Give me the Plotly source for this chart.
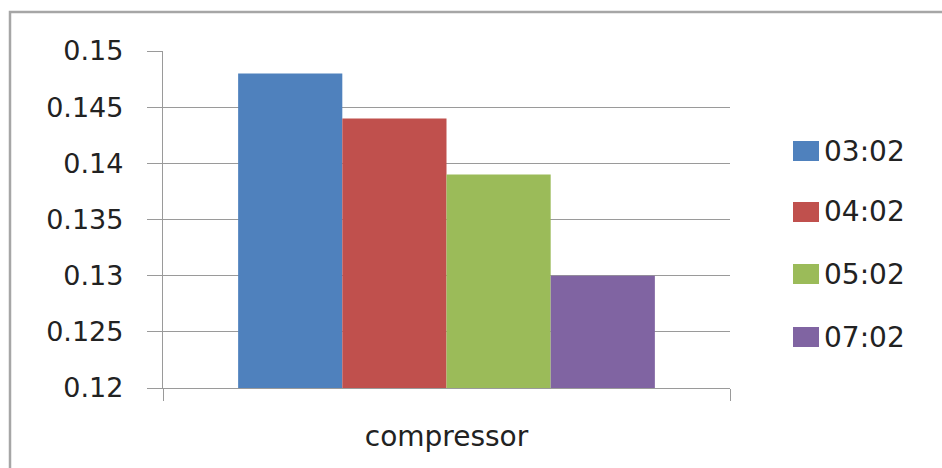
import plotly.graph_objects as go

# Data
categories = ["compressor"]
series_names = ["03:02", "04:02", "05:02", "07:02"]
series_values = [[0.148], [0.144], [0.139], [0.130]]
series_colors = ["#4F81BD", "#C0504D", "#9BBB59", "#8064A2"]
y_ticks = [0.12, 0.125, 0.13, 0.135, 0.14, 0.145, 0.15]
y_tick_labels = ["0.12", "0.125", "0.13", "0.135", "0.14", "0.145", "0.15"]

FONT = "DejaVu Sans"
TEXT = "#222222"
GRID = "#9a9a9a"

W, H = 942, 468
L, R, T, B = 163, 212, 51, 80
plot_w, plot_h = W - L - R, H - T - B


def px_x(px):
    return (px - L) / plot_w


def px_y(py):
    return (H - B - py) / plot_h


fig = go.Figure()
for name, vals, col in zip(series_names, series_values, series_colors):
    fig.add_trace(go.Bar(x=categories, y=vals, name=name, marker_color=col,
                         marker_line_width=0, showlegend=False))

# Chart frame (top and left edges visible)
shapes = [dict(type="rect", xref="paper", yref="paper",
               x0=px_x(10), x1=px_x(W + 20), y0=px_y(H + 20), y1=px_y(12),
               line=dict(color="#a6a6a6", width=2.5), fillcolor="rgba(0,0,0,0)",
               layer="below")]

# Legend: swatch + label per series
annotations = []
row_y = [151, 212, 274, 337]
for name, col, cy in zip(series_names, series_colors, row_y):
    shapes.append(dict(type="rect", xref="paper", yref="paper",
                       x0=px_x(793), x1=px_x(819), y0=px_y(cy + 10), y1=px_y(cy - 10),
                       line=dict(width=0), fillcolor=col))
    annotations.append(dict(xref="paper", yref="paper", x=px_x(822), y=px_y(cy),
                            xanchor="left", yanchor="middle", showarrow=False,
                            text=name, font=dict(family=FONT, size=28, color=TEXT)))

fig.update_layout(
    width=W, height=H,
    margin=dict(l=L, r=R, t=T, b=B, pad=0),
    paper_bgcolor="white", plot_bgcolor="white",
    barmode="group", bargap=0.265, bargroupgap=0,
    shapes=shapes, annotations=annotations,
    font=dict(family=FONT, color=TEXT),
)
fig.update_yaxes(
    range=[0.12, 0.15], tickvals=y_ticks, ticktext=y_tick_labels,
    showgrid=True, gridcolor=GRID, gridwidth=1.3,
    ticks="outside", ticklen=15, tickcolor=GRID, tickwidth=1.3,
    showline=True, linecolor=GRID, linewidth=1.3,
    ticklabelstandoff=18, tickfont=dict(family=FONT, size=27, color=TEXT),
    zeroline=False,
)
fig.update_xaxes(
    type="category", tickson="boundaries",
    ticks="outside", ticklen=12, tickcolor=GRID, tickwidth=1.3,
    showline=True, linecolor=GRID, linewidth=1.3, showgrid=False,
    ticklabelstandoff=23, tickfont=dict(family=FONT, size=28, color=TEXT),
)

fig.write_html("out.html")
